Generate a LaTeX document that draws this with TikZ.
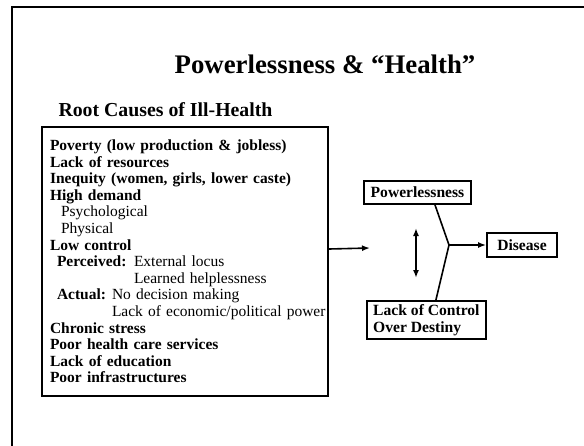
\documentclass[tikz,border=0pt]{standalone}
\usepackage{fontspec}
\setmainfont{Liberation Serif}
\usetikzlibrary{arrows.meta}
\tikzset{
  framebox/.style={draw,line width=2pt,inner sep=0pt},
  smallbox/.style={draw,line width=1.8pt,inner xsep=5pt,inner ysep=0pt,
    font=\fontsize{15.6}{17}\selectfont\bfseries},
  flow/.style={line width=1.6pt,-{Latex[length=8pt,width=6pt]}}
}
\begin{document}
\begin{tikzpicture}[x=1pt,y=-1pt]
  \useasboundingbox (0,0) rectangle (584,445);
  % slide frame
  \draw[line width=2pt] (12,450) -- (12,7.3) -- (590,7.3);
  \node[anchor=base,font=\fontsize{26.8}{30}\selectfont\bfseries] (title) at (325,73) {Powerlessness \& “Health”};
  \node[anchor=base west,font=\fontsize{19.8}{22}\selectfont\bfseries] (root) at (55,116) {Root Causes of Ill-Health};
  \node[framebox,anchor=north west,text width=270pt,inner xsep=8pt,minimum height=269pt,align=left,
        font=\fontsize{15.5}{16.6}\selectfont] (causes) at (41,126) {%
    \textbf{Poverty (low production \& jobless)}\\
    \textbf{Lack of resources}\\
    \textbf{Inequity (women, girls, lower caste)}\\
    \textbf{High demand}\\
    \hspace*{11pt}Psychological\\
    \hspace*{11pt}Physical\\
    \textbf{Low control}\\
    \hspace*{7pt}\makebox[77pt][l]{\textbf{Perceived:}}External locus\\
    \hspace*{84pt}Learned helplessness\\
    \hspace*{7pt}\makebox[55pt][l]{\textbf{Actual:}}No decision making\\
    \hspace*{62pt}\mbox{Lack of economic/political power}\\
    \textbf{Chronic stress}\\
    \textbf{Poor health care services}\\
    \textbf{Lack of education}\\
    \textbf{Poor infrastructures}};
  \node[smallbox,minimum width=107pt,minimum height=23pt] (power) at (417.5,192.5) {Powerlessness};
  \node[smallbox,minimum width=70pt,minimum height=24pt] (disease) at (522,245) {Disease};
  \node[smallbox,minimum width=119pt,minimum height=38pt,align=left,anchor=north west] (lack) at (366,300) {Lack of Control\\Over Destiny};
  \coordinate (inflow) at (370,248);
  \coordinate (fork) at (449,245);
  \coordinate (top) at (416,228);
  \coordinate (bottom) at (416,278);
  \draw[flow] ([yshift=12.5pt]causes.east) -- (inflow);
  \draw[line width=1.6pt,{Latex[length=8pt,width=6pt]}-{Latex[length=8pt,width=6pt]}] (top) -- (bottom);
  \draw[line width=1.6pt] ([xshift=17.5pt]power.south) -- (fork) -- ([xshift=9.5pt]lack.north);
  \draw[flow] (fork) -- (disease.west);
\end{tikzpicture}
\end{document}
